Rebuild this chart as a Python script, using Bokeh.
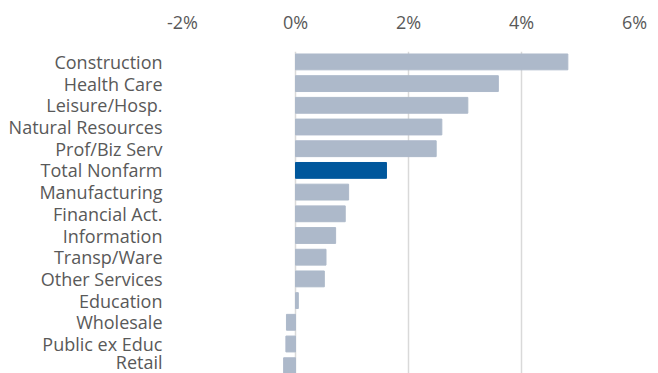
from bokeh.plotting import figure
from bokeh.models import Range1d, FixedTicker, ColumnDataSource
from bokeh.embed import file_html
from bokeh.resources import INLINE

categories = ["Construction", "Health Care", "Leisure/Hosp.", "Natural Resources",
              "Prof/Biz Serv", "Total Nonfarm", "Manufacturing", "Financial Act.",
              "Information", "Transp/Ware", "Other Services", "Education",
              "Wholesale", "Public ex Educ", "Retail"]
values = [4.82, 3.59, 3.05, 2.59, 2.49, 1.61, 0.94, 0.88, 0.71, 0.54, 0.51, 0.05,
          -0.16, -0.17, -0.21]
x_ticks = [-2, 0, 2, 4, 6]
x_tick_labels = ["-2%", "0%", "2%", "4%", "6%"]

LIGHT = "#adb9ca"
DARK = "#00579c"
colors = [DARK if c == "Total Nonfarm" else LIGHT for c in categories]
ypos = list(range(len(categories)))

src = ColumnDataSource(dict(y=ypos, v=values, c=colors, cat=categories))

p = figure(width=658, height=373, output_backend="svg", toolbar_location=None,
           x_axis_location="above",
           x_range=Range1d(-2, 6), y_range=Range1d(14.36, -0.48),
           min_border_left=182, min_border_right=24, min_border_top=51,
           min_border_bottom=0)
p.outline_line_color = None
p.background_fill_color = "white"
p.border_fill_color = "white"

p.hbar(y="y", left=0, right="v", height=0.73, color="c", source=src)

FONT = "Open Sans"
# x axis (top)
xa = p.xaxis[0]
xa.ticker = FixedTicker(ticks=x_ticks)
xa.major_label_overrides = {t: l for t, l in zip(x_ticks, x_tick_labels)}
xa.axis_line_color = None
xa.major_tick_line_color = None
xa.minor_tick_line_color = None
xa.major_label_text_font = FONT
xa.major_label_text_font_size = "18px"
xa.major_label_text_color = "#595959"
xa.major_label_standoff = 12

# y axis
ya = p.yaxis[0]
ya.ticker = FixedTicker(ticks=ypos)
ya.major_label_overrides = {i: c for i, c in zip(ypos, categories)}
ya.axis_line_color = None
ya.major_tick_line_color = None
ya.minor_tick_line_color = None
ya.major_label_text_font = FONT
ya.major_label_text_font_size = "18px"
ya.major_label_text_color = "#595959"
ya.major_label_standoff = 14

p.ygrid.grid_line_color = None
p.xgrid.ticker = FixedTicker(ticks=x_ticks)
p.xgrid.grid_line_color = "#d9d9d9"
p.xgrid.grid_line_width = 1.5

open("out.html", "w").write(file_html(p, INLINE))
